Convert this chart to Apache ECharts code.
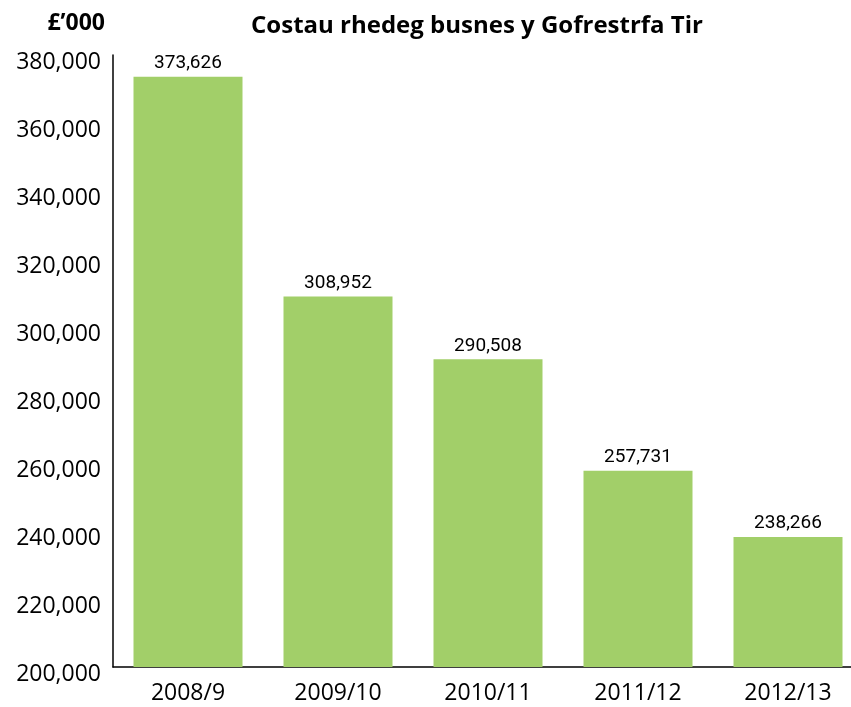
<!DOCTYPE html>
<html lang="cy">
<head>
    <meta charset="UTF-8">
    <title>Costau rhedeg busnes y Gofrestrfa Tir</title>
    <script src="https://cdn.jsdelivr.net/npm/echarts/dist/echarts.min.js"></script>
    <style>
        body { margin: 0; padding: 0; background: #ffffff; overflow: hidden; }
        /* the plot runs a little past the right edge of the window, as in the original */
        #chart { width: 863px; height: 707px; }
    </style>
</head>
<body>
<div id="chart"></div>
<script>
var years = ['2008/9', '2009/10', '2010/11', '2011/12', '2012/13'];
var costs = [373626, 308952, 290508, 257731, 238266];

var chart = echarts.init(document.getElementById('chart'));

var option = {
    animation: false,
    title: [
        {
            text: 'Costau rhedeg busnes y Gofrestrfa Tir',
            left: 472, top: 9, textAlign: 'center',
            textStyle: { fontFamily: 'Open Sans', fontWeight: 'bold', fontSize: 24, color: '#000' }
        },
        {
            text: '£’000',
            left: 100, top: 7, textAlign: 'right',
            textStyle: { fontFamily: 'Open Sans', fontWeight: 'bold', fontSize: 23, color: '#000' }
        }
    ],
    grid: { left: 113, right: 0, top: 55, bottom: 40 },
    xAxis: {
        type: 'category',
        data: years,
        axisLine: { lineStyle: { color: '#000', width: 1.5 } },
        axisTick: { show: false },
        axisLabel: { fontFamily: 'Open Sans', fontSize: 23, color: '#000', margin: 15 }
    },
    yAxis: {
        type: 'value',
        min: 200000, max: 380000, interval: 20000,
        axisLine: { show: true, lineStyle: { color: '#000', width: 1.5 } },
        axisTick: { show: false },
        splitLine: { show: false },
        axisLabel: {
            fontFamily: 'Open Sans', fontSize: 23, color: '#000', margin: 12,
            verticalAlign: 'top', lineHeight: 14,
            formatter: function (v) { return v.toLocaleString('en-GB'); }
        }
    },
    series: [{
        type: 'bar',
        data: costs,
        barWidth: 109,
        itemStyle: { color: '#a2cf69' },
        label: {
            show: true, position: 'top', distance: 4,
            fontFamily: 'Roboto', fontSize: 19, color: '#000',
            formatter: function (p) { return p.value.toLocaleString('en-GB'); }
        }
    }]
};

chart.setOption(option);
</script>
</body>
</html>
